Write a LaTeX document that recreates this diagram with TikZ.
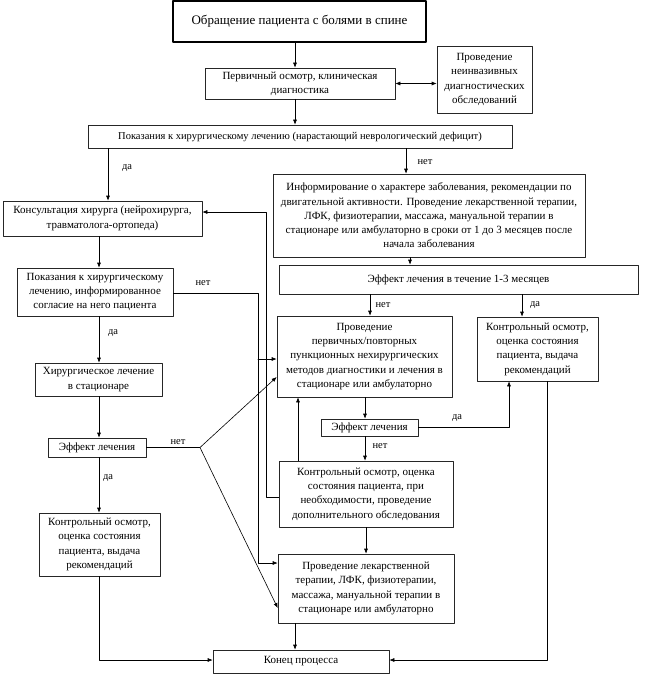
\documentclass[tikz,border=0pt]{standalone}
\usepackage{fontspec}
\setmainfont{Liberation Serif}
\usetikzlibrary{arrows.meta}
\tikzset{
  blok/.style={draw=black!85, line width=0.6pt, inner sep=0pt, align=center,
    font=\fontsize{11}{14.3}\selectfont},
  arr/.style={-{Latex[length=5pt,width=4pt]}},
  lab/.style={font=\fontsize{10.5}{12}\selectfont}
}
\begin{document}
\begin{tikzpicture}[x=1pt,y=-1pt,line cap=round,line join=round,line width=0.6pt]
  \useasboundingbox (0,0) rectangle (650,674);
  % boxes
  \node[blok,line width=1.4pt,draw=black,minimum width=253pt,minimum height=41pt,
    font=\fontsize{13}{15}\selectfont] (start) at (299.5,21.5)
    {Обращение пациента с болями в спине};
  \node[blok,minimum width=190pt,minimum height=31pt] (prim) at (300,83.5)
    {Первичный осмотр, клиническая\\диагностика};
  \node[blok,minimum width=95pt,minimum height=67pt] (noninv) at (484.5,79.5)
    {Проведение\\неинвазивных\\диагностических\\обследований};
  \node[blok,minimum width=424pt,minimum height=23pt,font=\fontsize{10.5}{13}\selectfont]
    (ind) at (300,136.5)
    {Показания к хирургическому лечению (нарастающий неврологический дефицит)};
  \node[blok,minimum width=312pt,minimum height=83pt] (info) at (429,215.5)
    {Информирование о характере заболевания, рекомендации по\\
     двигательной активности. Проведение лекарственной терапии,\\
     ЛФК, физиотерапии, массажа, мануальной терапии в\\
     стационаре или амбулаторно в сроки от 1 до 3 месяцев после\\
     начала заболевания};
  \node[blok,minimum width=359pt,minimum height=29pt] (eff13) at (458.5,279.5)
    {Эффект лечения в течение 1-3 месяцев};
  \node[blok,minimum width=175pt,minimum height=81pt] (punc) at (364.5,356.5)
    {Проведение\\первичных/повторных\\пункционных нехирургических\\
     методов диагностики и лечения в\\стационаре или амбулаторно};
  \node[blok,minimum width=121pt,minimum height=64pt] (rctrl) at (537.5,349)
    {Контрольный осмотр,\\оценка состояния\\пациента, выдача\\рекомендаций};
  \node[blok,minimum width=97pt,minimum height=17pt] (eff2) at (369.5,427.5)
    {Эффект лечения};
  \node[blok,minimum width=174pt,minimum height=66pt] (ctrl2) at (366,494)
    {Контрольный осмотр, оценка\\состояния пациента, при\\
     необходимости, проведение\\дополнительного обследования};
  \node[blok,minimum width=176pt,minimum height=69pt] (drug) at (366,588.5)
    {Проведение лекарственной\\терапии, ЛФК, физиотерапии,\\
     массажа, мануальной терапии в\\стационаре или амбулаторно};
  \node[blok,minimum width=176pt,minimum height=23pt] (end) at (301,661.5)
    {Конец процесса};
  \node[blok,minimum width=199pt,minimum height=35pt] (cons) at (102.5,218.5)
    {Консультация хирурга (нейрохирурга,\\травматолога-ортопеда)};
  \node[blok,minimum width=156pt,minimum height=48pt] (ind2) at (95,292)
    {Показания к хирургическому\\лечению, информированное\\согласие на него пациента};
  \node[blok,minimum width=127pt,minimum height=33pt] (surg) at (98.5,379.5)
    {Хирургическое лечение\\в стационаре};
  \node[blok,minimum width=98pt,minimum height=19pt] (eff1) at (97,447.5)
    {Эффект лечения};
  \node[blok,minimum width=121pt,minimum height=63pt] (lctrl) at (99.5,544.5)
    {Контрольный осмотр,\\оценка состояния\\пациента, выдача\\рекомендаций};
  % columns and rows for the connectors
  \coordinate (cmid) at (295,0);
  \coordinate (cda) at (108,0);
  \coordinate (cnet) at (406,0);
  \coordinate (cinfo) at (410,0);
  \coordinate (cnet2) at (370,0);
  \coordinate (cda2) at (522,0);
  \coordinate (cpunc) at (365,0);
  \coordinate (cright) at (509,0);
  \coordinate (cup) at (298,0);
  \coordinate (cloop) at (266,0);
  \coordinate (cind2) at (258,0);
  \coordinate (cleft) at (99,0);
  \coordinate (crc) at (547,0);
  \coordinate (rloop) at (0,212);
  \coordinate (rind2) at (0,293);
  \coordinate (rpunc) at (0,359);
  \coordinate (rdrug) at (0,563);
  \coordinate (rdiaga) at (0,377);
  \coordinate (rdiagb) at (0,608);
  \coordinate (rctrl2) at (0,497);
  \coordinate (rend) at (0,660);
  \coordinate (br) at (200,447.5);
  % main line
  \draw[arr] (start.south -| cmid) -- (prim.north -| cmid);
  \draw[{Latex[length=5pt,width=4pt]}-{Latex[length=5pt,width=4pt]}]
    (prim.east) -- (noninv.west |- prim.east);
  \draw[arr] (prim.south -| cmid) -- (ind.north -| cmid);
  \draw[arr] (ind.south -| cda) -- (cons.north -| cda);
  \draw[arr] (ind.south -| cnet) -- (info.north -| cnet);
  \draw[arr] (info.south -| cinfo) -- (eff13.north -| cinfo);
  \draw[arr] (eff13.south -| cnet2) -- (punc.north -| cnet2);
  \draw[arr] (eff13.south -| cda2) -- (rctrl.north -| cda2);
  \draw[arr] (punc.south -| cpunc) -- (eff2.north -| cpunc);
  \draw[arr] (eff2.east) -- (cright |- eff2.east) -- (rctrl.south -| cright);
  \draw[arr] (eff2.south -| cpunc) -- (ctrl2.north -| cpunc);
  \draw[arr] (ctrl2.north -| cup) -- (punc.south -| cup);
  \draw[arr] (ctrl2.south -| drug) -- (drug.north);
  \draw[arr] (drug.south -| cmid) -- (end.north -| cmid);
  % left branch
  \draw[arr] (cons.south -| cleft) -- (ind2.north -| cleft);
  \draw[arr] (ind2.south -| cleft) -- (surg.north -| cleft);
  \draw[arr] (surg.south -| cleft) -- (eff1.north -| cleft);
  \draw[arr] (eff1.south -| cleft) -- (lctrl.north -| cleft);
  \draw[arr] (lctrl.south -| cleft) -- (cleft |- rend) -- (end.west |- rend);
  \draw[arr] (rctrl.south -| crc) -- (crc |- rend) -- (end.east |- rend);
  % loops
  \draw[arr] (ctrl2.west |- rctrl2) -- (cloop |- rctrl2) -- (cloop |- rloop)
    -- (cons.east |- rloop);
  \draw[arr] (ind2.east |- rind2) -- (cind2 |- rind2) -- (cind2 |- rdrug)
    -- (drug.west |- rdrug);
  \draw[arr] (cind2 |- rpunc) -- (punc.west |- rpunc);
  \draw (eff1.east) -- (br);
  \draw[arr] (br) -- (punc.west |- rdiaga);
  \draw[arr] (br) -- (drug.west |- rdiagb);
  % labels
  \node[lab] (l1) at (127,168) {да};
  \node[lab] (l2) at (425,162) {нет};
  \node[lab] (l3) at (203,283) {нет};
  \node[lab] (l4) at (113,333) {да};
  \node[lab] (l5) at (108,478) {да};
  \node[lab] (l6) at (178,442) {нет};
  \node[lab] (l7) at (383,305) {нет};
  \node[lab] (l8) at (535,305) {да};
  \node[lab] (l9) at (457,418) {да};
  \node[lab] (l10) at (380,446) {нет};
\end{tikzpicture}
\end{document}
